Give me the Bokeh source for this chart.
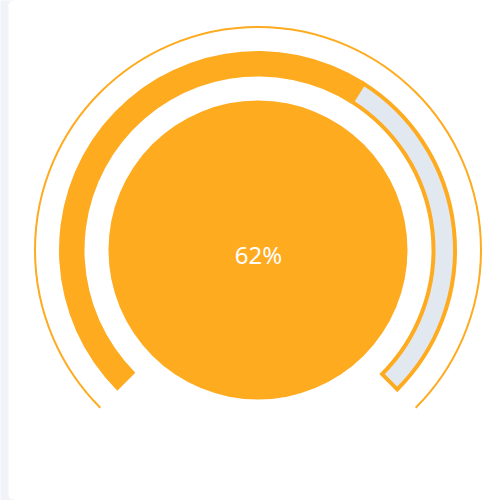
from bokeh.plotting import figure
from bokeh.models import Range1d, BoxAnnotation
from bokeh.core.properties import value
from bokeh.embed import file_html
from bokeh.resources import INLINE

# Gauge data
gauge_value = [62]
gauge_min = [0]
gauge_max = [100]
gauge_label = ["62%"]

# Gauge geometry (degrees, anticlockwise from +x)
START_DEG = 225.0
SWEEP_DEG = 270.0
CX, CY = 257.5, 250.5

ORANGE = "#FEAB1F"
TRACK = "#E1E8EF"
PAGE_BG = "#F2F3F8"

frac = (gauge_value[0] - gauge_min[0]) / (gauge_max[0] - gauge_min[0])
split_deg = START_DEG - frac * SWEEP_DEG
end_deg = START_DEG - SWEEP_DEG

p = figure(width=500, height=500, x_range=Range1d(0, 500), y_range=Range1d(0, 500),
           output_backend="svg", toolbar_location=None, min_border=0)
p.axis.visible = False
p.grid.visible = False
p.outline_line_color = None
p.background_fill_color = "white"
p.border_fill_color = "white"

# page strip on the left, with the white card's rounded corners over it
strip = BoxAnnotation(left=-10, right=14, top=510, bottom=-10, fill_color=PAGE_BG,
                      fill_alpha=1, line_color=None, level="underlay")
p.add_layout(strip)
card = BoxAnnotation(left=8, right=520, top=500, bottom=1, fill_color="white",
                     fill_alpha=1, line_color=None, border_radius=5, level="underlay")
p.add_layout(card)

# thin outer ring
p.arc(x=[CX], y=[CY], radius=223, start_angle=[end_deg], end_angle=[START_DEG],
      start_angle_units="deg", end_angle_units="deg",
      line_color=ORANGE, line_width=2)

# progress band
p.annular_wedge(x=[CX], y=[CY], inner_radius=173.5, outer_radius=199,
                start_angle=[split_deg], end_angle=[START_DEG],
                start_angle_units="deg", end_angle_units="deg",
                fill_color=ORANGE, line_color=None)

# remaining track with orange border
p.annular_wedge(x=[CX], y=[CY], inner_radius=175.5, outer_radius=197,
                start_angle=[end_deg], end_angle=[split_deg],
                start_angle_units="deg", end_angle_units="deg",
                fill_color=TRACK, line_color=ORANGE, line_width=4, line_join="miter")

# inner disc
p.circle(x=[CX], y=[CY], radius=149.5, fill_color=ORANGE, line_color=None)

p.text(x=[CX + 0.5], y=[CY - 4], text=gauge_label, text_color="white",
       text_font=value("Noto Sans"), text_font_size="24px",
       text_align="center", text_baseline="alphabetic")

open("out.html", "w").write(file_html(p, INLINE))
